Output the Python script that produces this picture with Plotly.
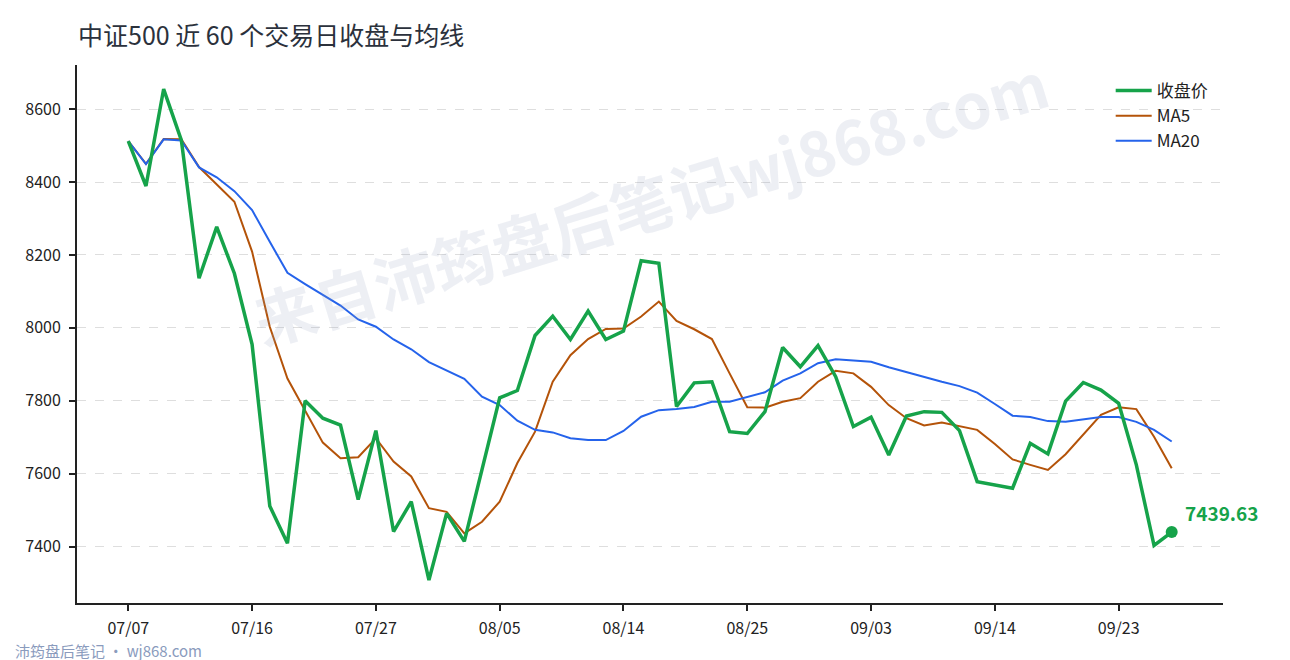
import plotly.graph_objects as go

fontName = "Noto Sans CJK SC"

# x axis: 60 trading days
dates = ["07/07", "07/08", "07/09", "07/10", "07/11", "07/14", "07/15", "07/16",
         "07/17", "07/18", "07/21", "07/22", "07/23", "07/24", "07/27",
         "07/28", "07/29", "07/30", "07/31", "08/01", "08/04", "08/05",
         "08/06", "08/07", "08/08", "08/11", "08/12", "08/13", "08/14",
         "08/15", "08/18", "08/19", "08/20", "08/21", "08/22", "08/25",
         "08/26", "08/27", "08/28", "08/29", "09/01", "09/02", "09/03",
         "09/04", "09/05", "09/08", "09/09", "09/10", "09/11", "09/14",
         "09/15", "09/16", "09/17", "09/18", "09/19", "09/22", "09/23",
         "09/24", "09/25", "09/26"]

closePrice = [8512, 8389, 8655, 8515, 8136, 8277, 8149, 7955, 7511, 7409,
              7800, 7752, 7733, 7529, 7718, 7441, 7523, 7308, 7491, 7414,
              7611, 7808, 7828, 7979, 8032, 7968, 8046, 7968, 7991, 8184,
              8177, 7784, 7849, 7852, 7715, 7710, 7770, 7946, 7893, 7951,
              7866, 7729, 7755, 7651, 7758, 7770, 7768, 7718, 7578, 7569,
              7560, 7683, 7654, 7799, 7850, 7829, 7793, 7624, 7403, 7439.63]

ma5 = [8512, 8450, 8518, 8517, 8441, 8394, 8346, 8209, 8003, 7861,
       7774, 7685, 7642, 7645, 7697, 7633, 7592, 7505, 7495, 7436,
       7468, 7523, 7629, 7715, 7852, 7925, 7969, 7997, 7998, 8031,
       8072, 8019, 7996, 7969, 7875, 7782, 7781, 7797, 7807, 7852,
       7882, 7875, 7838, 7788, 7752, 7732, 7740, 7731, 7720, 7681,
       7639, 7624, 7610, 7653, 7706, 7761, 7782, 7777, 7701, 7615]

ma20 = [8512, 8449, 8517, 8514, 8440, 8413, 8375, 8323, 8236, 8151,
        8120, 8090, 8061, 8023, 8003, 7968, 7941, 7906, 7882, 7860,
        7811, 7788, 7745, 7720, 7713, 7697, 7692, 7692, 7717, 7756,
        7774, 7777, 7783, 7797, 7797, 7811, 7823, 7855, 7875, 7903,
        7914, 7910, 7907, 7892, 7878, 7866, 7852, 7840, 7822, 7791,
        7759, 7755, 7744, 7742, 7749, 7755, 7755, 7742, 7720, 7688]

yTicks = [7400, 7600, 7800, 8000, 8200, 8400, 8600]
xTicks = dates[::7]

green = "#16a34a"
orange = "#b45309"
blue = "#2563eb"

fig = go.Figure()

fig.add_trace(go.Scatter(x=dates, y=ma5, mode="lines", name="MA5",
                         line=dict(color=orange, width=2), legendrank=2))
fig.add_trace(go.Scatter(x=dates, y=ma20, mode="lines", name="MA20",
                         line=dict(color=blue, width=2), legendrank=3))
fig.add_trace(go.Scatter(x=dates, y=closePrice, mode="lines", name="收盘价",
                         line=dict(color=green, width=3.5), legendrank=1))
# last close marker
fig.add_trace(go.Scatter(x=[dates[-1]], y=[closePrice[-1]], mode="markers",
                         marker=dict(color=green, size=12), showlegend=False))

fig.add_annotation(x=dates[-1], y=closePrice[-1], text="<b>%.2f</b>" % closePrice[-1],
                   showarrow=False, xanchor="left", yanchor="middle",
                   xshift=11, yshift=20, font=dict(color=green, size=19, family=fontName))

# watermark
fig.add_annotation(x=0.50, y=0.75, xref="paper", yref="paper", xanchor="center", yanchor="middle",
                   text="<b>来自沛筠盘后笔记wj868.com</b>", showarrow=False,
                   textangle=-17, font=dict(size=62, color="rgba(150,160,190,0.17)", family=fontName))

# footer
fig.add_annotation(x=-0.0558, y=-0.0875, xref="paper", yref="paper", xanchor="left", yanchor="middle",
                   text="沛筠盘后笔记 · wj868.com", showarrow=False,
                   font=dict(size=15, color="#8a9bbd", family=fontName))

fig.update_layout(
    width=1290, height=660,
    margin=dict(l=77, r=67, t=65, b=57),
    paper_bgcolor="white", plot_bgcolor="white",
    font=dict(family=fontName, size=16, color="#222"),
    title=dict(text="中证500 近 60 个交易日收盘与均线", x=78 / 1290, xref="container", xanchor="left",
               y=1 - 36 / 660, yref="container", yanchor="middle",
               font=dict(size=25, color="#2b313c", family=fontName)),
    legend=dict(x=0.902, y=0.985, xanchor="left", yanchor="top", bgcolor="rgba(0,0,0,0)",
                font=dict(size=17, color="#222"), itemwidth=36, tracegroupgap=2),
    showlegend=True,
)

fig.update_xaxes(type="category", range=[-2.9, 61.9], tickvals=xTicks, ticktext=xTicks,
                 showline=True, linecolor="#222", linewidth=2, ticks="outside", ticklen=6,
                 tickwidth=2, tickcolor="#222", showgrid=False, zeroline=False,
                 ticklabelstandoff=4, tickfont=dict(size=16, color="#222"))
fig.update_yaxes(range=[7245, 8721], tickvals=yTicks, showline=True, linecolor="#222", linewidth=2,
                 ticks="outside", ticklen=6, tickwidth=2, tickcolor="#222",
                 showgrid=True, gridcolor="#dedede", griddash="dash", gridwidth=1, zeroline=False,
                 ticklabelstandoff=5, tickfont=dict(size=16, color="#222"))

config = {'displayModeBar': False}

# drop the page's default body margin so the figure fills the window
fig.write_html("out.html", config=config, post_script="document.body.style.margin = '0px';")
